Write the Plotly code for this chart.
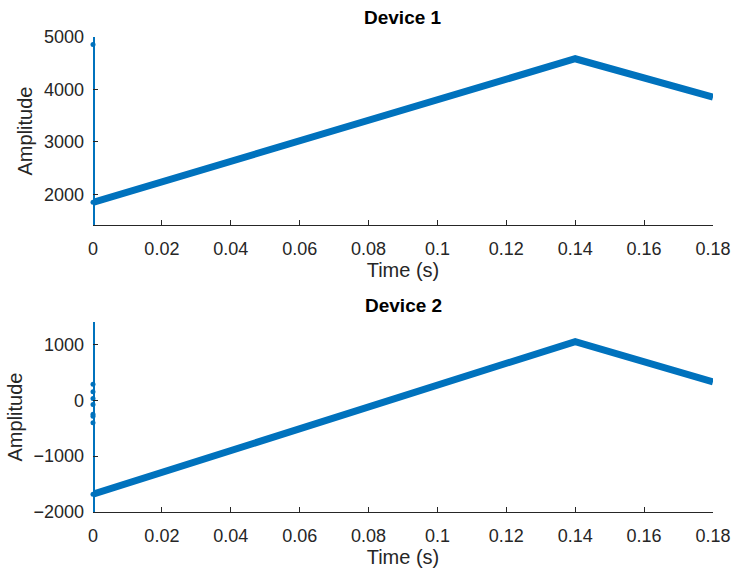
import plotly.graph_objects as go
from plotly.subplots import make_subplots

# Device 1: start-up samples at t = 0, then the ramp
dev1_start_t = [0, 0, 0, 0]
dev1_start_amp = [5000, 4857, 1415, 1848]
dev1_t = [0, 0.14, 0.18]
dev1_amp = [1848, 4585, 3853]

# Device 2: start-up samples at t = 0, then the ramp
dev2_start_t = [0, 0, 0, 0, 0, 0, 0, 0, 0, 0]
dev2_start_amp = [1400, 288, 150, 31, -77, -252, -288, -402, -2000, -1681]
dev2_t = [0, 0.14, 0.18]
dev2_amp = [-1681, 1050, 330]

x_ticks = [0, 0.02, 0.04, 0.06, 0.08, 0.1, 0.12, 0.14, 0.16, 0.18]
x_tick_text = ["0", "0.02", "0.04", "0.06", "0.08", "0.1", "0.12", "0.14", "0.16", "0.18"]
y1_ticks = [2000, 3000, 4000, 5000]
y2_ticks = [-2000, -1000, 0, 1000]

BLUE = "#0072BD"
AXIS = "#262626"
FONT = "Liberation Sans, Arial, sans-serif"


def start_marker_sizes(values, lo, hi):
    # samples sitting on the axis limits are drawn as line only
    return [0 if v <= lo or v >= hi else 5 for v in values]


fig = make_subplots(rows=2, cols=1)

panels = [
    (dev1_start_t, dev1_start_amp, dev1_t, dev1_amp, 1415, 5000),
    (dev2_start_t, dev2_start_amp, dev2_t, dev2_amp, -2000, 1400),
]
for row, (st, sa, t, a, lo, hi) in enumerate(panels, start=1):
    fig.add_trace(go.Scatter(
        x=t, y=a, mode="lines",
        line=dict(color=BLUE, width=7),
        showlegend=False, hoverinfo="skip"), row=row, col=1)
    fig.add_trace(go.Scatter(
        x=st, y=sa, mode="lines+markers",
        line=dict(color=BLUE, width=4),
        marker=dict(color=BLUE, size=start_marker_sizes(sa, lo, hi),
                    opacity=1, line=dict(width=0)),
        cliponaxis=False,
        showlegend=False, hoverinfo="skip"), row=row, col=1)

xcommon = dict(
    range=[0, 0.18], tickvals=x_ticks, ticktext=x_tick_text,
    ticks="inside", ticklen=5, tickcolor=AXIS, tickwidth=1,
    showline=True, linecolor=AXIS, linewidth=1,
    showgrid=False, zeroline=False, automargin=False,
    ticklabelstandoff=7,
    tickfont=dict(family=FONT, size=18, color=AXIS),
    title=dict(text="Time (s)", font=dict(family=FONT, size=20, color=AXIS), standoff=3),
)
ycommon = dict(
    ticks="inside", ticklen=5, tickcolor=AXIS, tickwidth=1,
    showline=False, showgrid=False, zeroline=False, automargin=False,
    ticklabelstandoff=8,
    tickfont=dict(family=FONT, size=18, color=AXIS),
    title=dict(text="Amplitude", font=dict(family=FONT, size=20, color=AXIS), standoff=5),
)

plot_h = 571 - 37 - 59


def title_y(ypix):
    return (571 - 59 - ypix) / plot_h


fig.update_layout(
    width=733, height=571,
    paper_bgcolor="white", plot_bgcolor="white",
    margin=dict(l=93, r=20, t=37, b=59),
    xaxis=dict(domain=[0, 1], anchor="y", **xcommon),
    xaxis2=dict(domain=[0, 1], anchor="y2", **xcommon),
    yaxis=dict(domain=[0.6042, 1.0], anchor="x", range=[1415, 5000],
               tickvals=y1_ticks, **ycommon),
    yaxis2=dict(domain=[0.0, 0.4], anchor="x2", range=[-2000, 1400],
                tickvals=y2_ticks, **ycommon),
    annotations=[
        dict(text="<b>Device 1</b>", x=0.5, y=title_y(17), xref="paper", yref="paper",
             yanchor="middle", showarrow=False,
             font=dict(family=FONT, size=19, color="black")),
        dict(text="<b>Device 2</b>", x=0.5, y=title_y(305), xref="paper", yref="paper",
             yanchor="middle", showarrow=False,
             font=dict(family=FONT, size=19, color="black")),
    ],
)

fig.write_html("out.html")
